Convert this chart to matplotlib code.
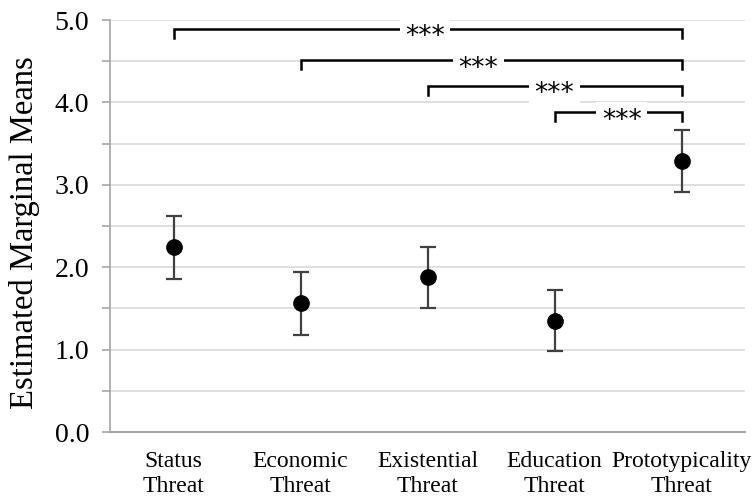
import matplotlib
matplotlib.use("Agg")
import matplotlib.pyplot as plt
import numpy as np

categories = ["Status\nThreat", "Economic\nThreat", "Existential\nThreat", "Education\nThreat", "Prototypicality\nThreat"]
means = [2.24, 1.56, 1.88, 1.35, 3.29]
errors = [0.38, 0.38, 0.37, 0.37, 0.38]

# brackets: (from index, to index, level, label x in category units)
bracket_from = [0, 1, 2, 3]
bracket_to = [4, 4, 4, 4]
bracket_level = [4.89, 4.51, 4.20, 3.88]
bracket_label = ["***", "***", "***", "***"]
bracket_text_x = [1.98, 2.4, 3.0, 3.53]

plt.rcParams['font.family'] = ['Liberation Serif', 'DejaVu Serif']

fig = plt.figure(figsize=(7.52, 4.97), dpi=100)
ax = fig.add_axes([110/752, 65/497, 635/752, 412/497])

x = np.arange(len(categories))
ax.errorbar(x, means, yerr=errors, fmt='o', color='black', ecolor='#404040',
            elinewidth=1.6, capsize=6, capthick=1.6, markersize=11, zorder=3)

ax.set_xlim(-0.5, len(categories) - 0.5)
ax.set_ylim(0, 5)
yt = np.arange(0, 5.01, 0.5)
ax.set_yticks(yt)
ax.set_yticklabels([f"{v:.1f}" if abs(v - round(v)) < 1e-9 else "" for v in yt])
ax.set_xticks(x)
ax.set_xticklabels(categories, fontsize=17, linespacing=1.2)
ax.tick_params(axis='x', length=0, pad=14)
ax.tick_params(axis='y', length=6, width=1.2, color='#a6a6a6', labelsize=20, pad=9)
ax.yaxis.grid(True, color='#d9d9d9', linewidth=1.2)
ax.set_axisbelow(True)
for s in ['top', 'right']:
    ax.spines[s].set_visible(False)
ax.spines['left'].set_color('#a6a6a6')
ax.spines['bottom'].set_color('#a6a6a6')
ax.spines['left'].set_linewidth(1.2)
ax.spines['bottom'].set_linewidth(1.5)
ax.set_ylabel("Estimated Marginal Means", fontsize=23.5)
ax.yaxis.set_label_coords(-0.110, 0.483)

drop = 0.11
for i, (f, t, lvl, lab, tx) in enumerate(zip(bracket_from, bracket_to, bracket_level, bracket_label, bracket_text_x)):
    ax.plot([f, f, t, t], [lvl - drop, lvl, lvl, lvl - drop], color='black', lw=1.8,
            zorder=4 + 2 * i, solid_joinstyle='miter')
    ax.annotate(lab, xy=(tx, lvl), xytext=(0, -11), textcoords='offset points',
                ha='center', va='baseline', fontsize=19, family='DejaVu Sans', zorder=5 + 2 * i,
                bbox=dict(facecolor='white', edgecolor='none', pad=4))

fig.savefig("out.png", dpi=100)
